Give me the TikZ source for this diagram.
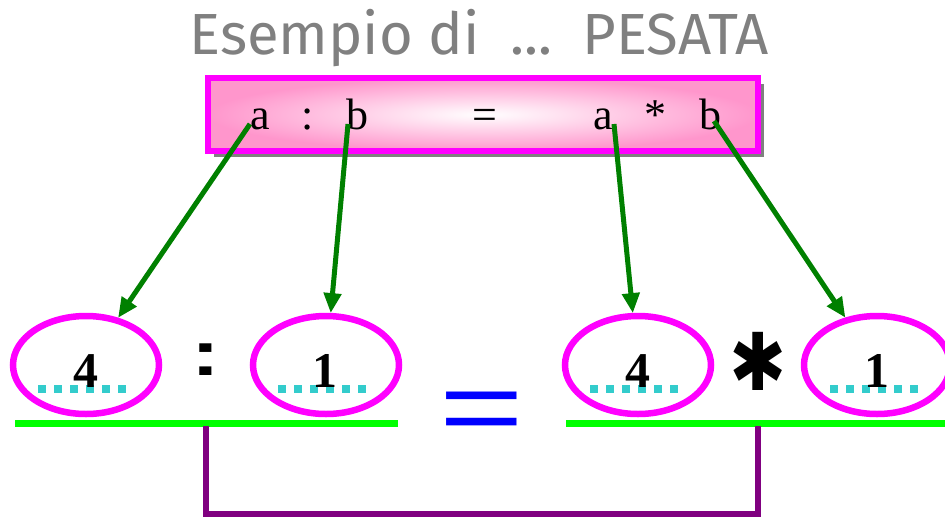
\documentclass[tikz,border=0pt]{standalone}
\usepackage{fontspec}
\setmainfont{Liberation Serif}
\newfontfamily\titlefont{Fira Sans}
\newfontfamily\symfont{DejaVu Sans}
\newfontfamily\arialfont{Liberation Sans}
\usetikzlibrary{shapes.geometric,arrows.meta,shadows}
\definecolor{titlegray}{RGB}{128,128,128}
\definecolor{boxpink}{RGB}{255,150,204}
\definecolor{mag}{RGB}{255,0,255}
\definecolor{arrgreen}{RGB}{0,128,0}
\definecolor{dotcyan}{RGB}{51,204,204}
\definecolor{linegreen}{RGB}{0,255,0}
\definecolor{purp}{RGB}{128,0,128}
\definecolor{eqblue}{RGB}{0,0,255}
\tikzset{
  letter/.style={anchor=base,inner sep=0pt,font=\fontsize{44}{48}\selectfont},
  arr/.style={draw=arrgreen,line width=5pt,-{Triangle[length=20pt,width=17pt]}},
  oval/.style={ellipse,draw=mag,line width=6.5pt,minimum width=146pt,minimum height=98pt,inner sep=0pt,outer sep=3pt},
  digit/.style={anchor=base,inner sep=0pt,font=\bfseries\fontsize{50}{54}\selectfont},
  dotline/.style={draw=dotcyan,line width=8pt,dash pattern=on 8pt off 8pt},
  baseline/.style={draw=linegreen,line width=7pt},
  bracket/.style={draw=purp,line width=6pt}
}
\begin{document}
\begin{tikzpicture}[x=1pt,y=-1pt]
\useasboundingbox (0,0) rectangle (945,517);
% title
\node[text=titlegray,font=\titlefont\fontsize{58}{62}\selectfont,inner sep=0pt] (title) at (479,38) {Esempio di\ \ ...\ \ PESATA};
% box
\node[draw=mag,line width=6pt,inner color=white,outer color=boxpink,shade,
      minimum width=550pt,minimum height=73pt,inner sep=0pt,
      drop shadow={shadow xshift=6pt,shadow yshift=-6pt,fill=titlegray,opacity=1}] (box) at (483,114.5) {};
\node[letter] (a1) at (260,129) {a};
\node[letter] (c1) at (308,129) {:};
\node[letter] (b1) at (357,129) {b};
\node[letter] (eq1) at (485,129) {=};
\node[letter] (a2) at (603,129) {a};
\node[letter] (s2) at (655,129) {*};
\node[letter] (b2) at (710,129) {b};
\coordinate (sa1) at (250,124);
\coordinate (sb1) at (348,124);
\coordinate (sa2) at (614,124);
\coordinate (sb2) at (714,121);
% ovals
\node[oval] (e1) at (86,365) {};
\node[oval] (e2) at (326,365) {};
\node[oval] (e3) at (638,365) {};
\node[oval] (e4) at (877,365) {};
% arrows
\draw[arr] (sa1) -- (e1);
\draw[arr] (sb1) -- (e2);
\draw[arr] (sa2) -- (e3);
\draw[arr] (sb2) -- (e4);
% dotted lines
\coordinate (d1a) at (38,389); \coordinate (d1b) at (126,389);
\coordinate (d2a) at (278,389); \coordinate (d2b) at (366,389);
\coordinate (d3a) at (590,389); \coordinate (d3b) at (678,389);
\coordinate (d4a) at (830,389); \coordinate (d4b) at (918,389);
\draw[dotline] (d1a) -- (d1b);
\draw[dotline] (d2a) -- (d2b);
\draw[dotline] (d3a) -- (d3b);
\draw[dotline] (d4a) -- (d4b);
% digits
\node[digit] (n1) at (86,387) {4};
\node[digit] (n2) at (325,387) {1};
\node[digit] (n3) at (638,387) {4};
\node[digit] (n4) at (877,387) {1};
% operators
\node[font=\arialfont\bfseries\fontsize{86}{86}\selectfont,inner sep=0pt] (colon) at (206,359.5) {\scalebox{1}[0.73]{:}};
\node[font=\symfont\fontsize{76}{76}\selectfont,inner sep=0pt] (star) at (758,361) {\scalebox{0.9}[1.05]{✱}};
\node[text=eqblue,font=\arialfont\fontsize{105}{105}\selectfont,inner sep=0pt,anchor=base] (eq) at (482,443) {\scalebox{1.38}[1]{=}};
% green lines
\coordinate (gl1) at (15,423); \coordinate (gr1) at (398,423);
\coordinate (gl2) at (566,423); \coordinate (gr2) at (945,423);
\draw[baseline] (gl1) -- (gr1);
\draw[baseline] (gl2) -- (gr2);
% purple bracket
\coordinate (p1) at (206,426); \coordinate (p2) at (758,426);
\draw[bracket] (p1) -- (206,514) -- (758,514) -- (p2);
\end{tikzpicture}
\end{document}
